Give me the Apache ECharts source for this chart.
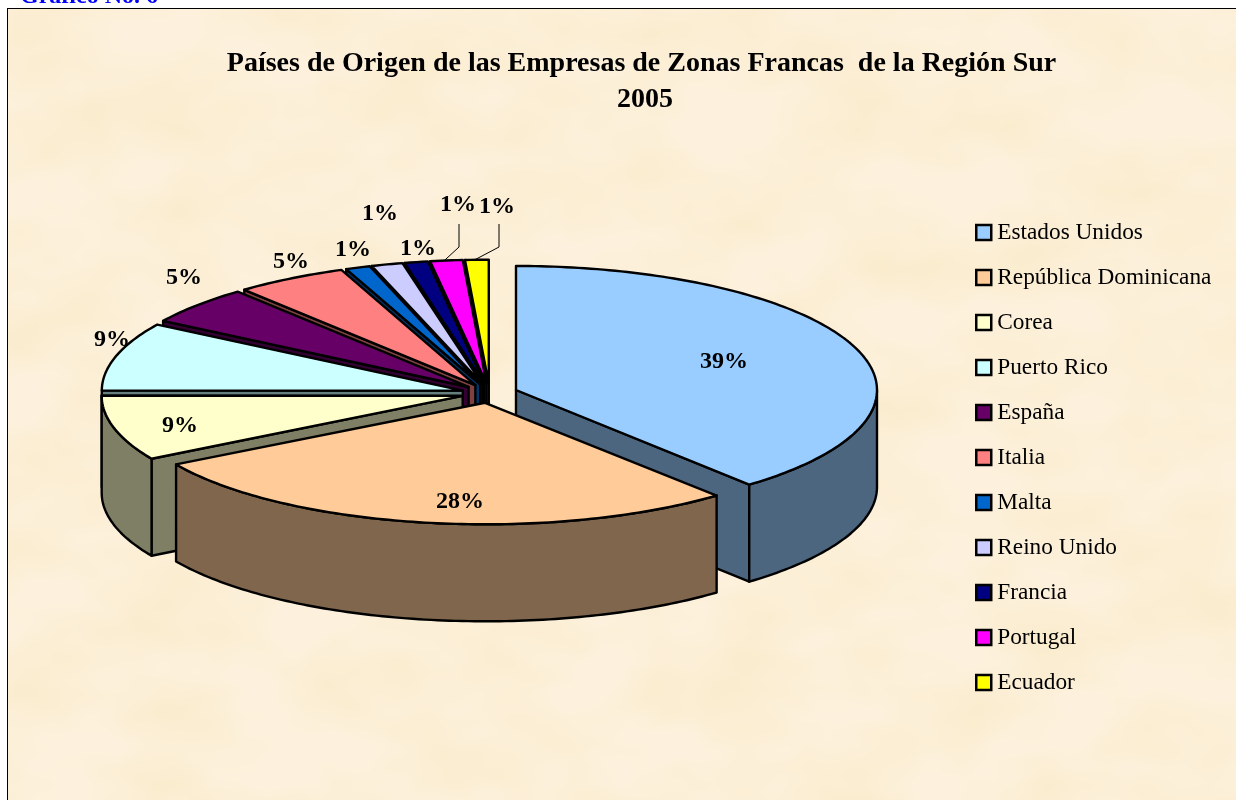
<!DOCTYPE html>
<html>
<head>
<meta charset="utf-8">
<style>
html,body{margin:0;padding:0;width:1236px;height:800px;overflow:hidden;background:#fff}
#panel{position:absolute;left:7px;top:8px;width:1300px;height:900px;border:1px solid #000;box-sizing:border-box;
background-color:#fdf1dd;
background-image:url("data:image/svg+xml,%3Csvg xmlns='http://www.w3.org/2000/svg' width='1300' height='900'%3E%3Cfilter id='n' x='0' y='0' width='100%25' height='100%25' color-interpolation-filters='sRGB'%3E%3CfeTurbulence type='fractalNoise' baseFrequency='0.009 0.014' numOctaves='3' seed='11'/%3E%3CfeColorMatrix values='0 0 0 0 0.97 0 0 0 0 0.91 0 0 0 0 0.76 1.1 0 0 0 -0.35'/%3E%3C/filter%3E%3Crect width='1300' height='900' filter='url(%23n)'/%3E%3C/svg%3E");}
#chart{position:absolute;left:0;top:0;width:1236px;height:800px}
</style>
<script src="https://cdn.jsdelivr.net/npm/echarts@6/dist/echarts.min.js"></script>
</head>
<body>
<div id="panel"></div>
<div id="chart"></div>
<script>
// Data (share of the pie, per cent)
const categories = ['Estados Unidos','República Dominicana','Corea','Puerto Rico','España','Italia','Malta','Reino Unido','Francia','Portugal','Ecuador'];
const values = [38.8,27.7,8.5,8.9,5.0,5.0,1.1,1.4,1.05,1.45,1.05];
const topColors = ['#99CCFF','#FFCC99','#FFFFCC','#CCFFFF','#660066','#FF8080','#0066CC','#CCCCFF','#000080','#FF00FF','#FFFF00'];
const wallColors = ['#4C667F','#7F664C','#7F7F66','#667F7F','#330033','#7F4040','#003366','#66667F','#000040','#7F007F','#7F7F00'];
const titleLines = ['Países de Origen de las Empresas de Zonas Francas  de la Región Sur','2005'];
const caption = 'Gráfico No. 6';

// Layout of the projected pie
const CX = 489.7, CY = 393.3, RX = 361, RY = 124, DEPTH = 97, EXPLODE = 28;
const paintOrder = [10,9,8,7,6,5,4,3,2,0,1];
const frontSliceScale = {1:[0.993,0.98]};
const labelAnchors = [[724,362],[460,502],[180,426],[112,340],[184,278],[291,262],[353,250],[380,214],[418,249],[458,205],[497,207]];
const leaderX = {9:459, 10:499};

const total = values.reduce((a,b)=>a+b,0);
const slices = [];
let acc = 0;
values.forEach((v,i)=>{
  const a0 = acc/total*360; acc += v; const a1 = acc/total*360;
  const mid = (a0+a1)/2*Math.PI/180;
  const sc = frontSliceScale[i] || [1,1];
  slices.push({a0,a1,cx:CX+EXPLODE*Math.sin(mid),cy:CY-EXPLODE*Math.cos(mid)*RY/RX,mid,rx:RX*sc[0],ry:RY*sc[1]});
});
const rim = (s,deg,dy)=>{const t=deg*Math.PI/180;return [s.cx+s.rx*Math.sin(t),s.cy-s.ry*Math.cos(t)+(dy||0)];};
const arc = (s,a,b,dy)=>{const p=[];const n=Math.max(2,Math.ceil(Math.abs(b-a)));for(let i=0;i<=n;i++)p.push(rim(s,a+(b-a)*i/n,dy));return p;};
const LINE = {stroke:'#000',lineWidth:2.4,lineJoin:'round'};

function renderSlice(i, api){
  const s = slices[i], children = [];
  const poly = (points,fill)=>children.push({type:'polygon',shape:{points},style:Object.assign({fill},LINE)});
  const radialWall = deg=>{const e=rim(s,deg);poly([[s.cx,s.cy],e,[e[0],e[1]+DEPTH],[s.cx,s.cy+DEPTH]],wallColors[i]);};
  if(Math.sin(s.a0*Math.PI/180)<0) radialWall(s.a0);
  if(Math.sin(s.a1*Math.PI/180)>0) radialWall(s.a1);
  const w0=Math.max(s.a0,90), w1=Math.min(s.a1,270);
  if(w1>w0) poly(arc(s,w0,w1,0).concat(arc(s,w1,w0,DEPTH)),wallColors[i]);
  poly([[s.cx,s.cy]].concat(arc(s,s.a0,s.a1,0)),topColors[i]);
  return {type:'group',children};
}

const series = paintOrder.map((i,order)=>({
  type:'custom',name:categories[i],coordinateSystem:'none',z:2+order,silent:true,
  itemStyle:{color:topColors[i]},
  data:[[values[i]]],
  renderItem:(p,api)=>renderSlice(i,api)
}));
series.push({
  type:'custom',name:'labels',coordinateSystem:'none',z:40,silent:true,
  data:values.map(v=>[v]),
  renderItem:(p,api)=>{
    const i=p.dataIndex, children=[];
    const a=labelAnchors[i];
    if(leaderX[i]!==undefined){
      const r=rim(slices[i],(slices[i].a0+slices[i].a1)/2);
      children.push({type:'polyline',shape:{points:[[leaderX[i],224],[leaderX[i],247],[r[0]-2,r[1]]]},style:{stroke:'#000',lineWidth:1,fill:null}});
    }
    children.push({type:'text',style:{text:Math.round(api.value(0)/total*100)+'%',x:a[0],y:a[1],align:'center',verticalAlign:'middle',
      font:'bold 24px "Liberation Serif","Times New Roman",serif',fill:'#000'}});
    return {type:'group',children};
  }
});

const chart = echarts.init(document.getElementById('chart'),null,{renderer:'canvas'});
chart.setOption({
  backgroundColor:'transparent',
  animation:false,
  title:[
    {text:titleLines[0],left:636.5,top:43,textAlign:'center',textStyle:{fontFamily:'Liberation Serif',fontWeight:'bold',fontSize:28,color:'#000',lineHeight:32}},
    {text:titleLines[1],left:640,top:79,textAlign:'center',textStyle:{fontFamily:'Liberation Serif',fontWeight:'bold',fontSize:28,color:'#000',lineHeight:32}},
    {text:caption,left:15,top:-18,textStyle:{fontFamily:'Liberation Serif',fontWeight:'bold',fontSize:24,color:'#0000FF',lineHeight:20}}
  ],
  legend:{
    orient:'vertical',left:970,top:216,icon:'rect',itemWidth:15,itemHeight:15,itemGap:22,selectedMode:false,
    textStyle:{fontFamily:'Liberation Serif',fontSize:23.3,color:'#000',lineHeight:22,padding:[0,0,0,1]},
    data:categories.map((name,i)=>({name,icon:'rect',itemStyle:{color:topColors[i],borderColor:'#000',borderWidth:2.5}}))
  },
  series
});
</script>
</body>
</html>
